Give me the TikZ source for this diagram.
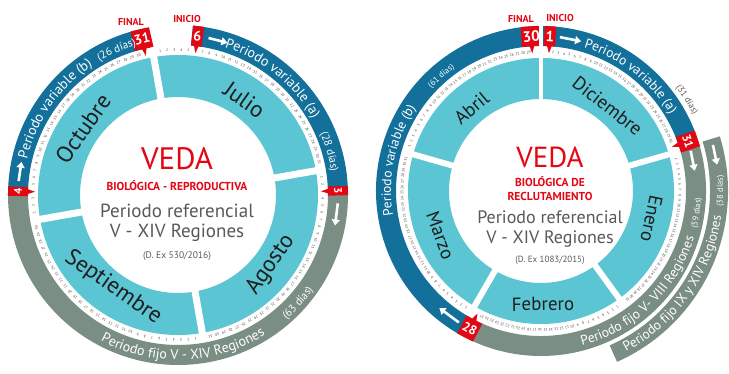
\documentclass[tikz,border=0pt]{standalone}
\usepackage{fontspec}
\setmainfont{PT Sans}
\usetikzlibrary{decorations.text,arrows.meta}

\definecolor{vedablue}{HTML}{12709B}
\definecolor{vedagray}{HTML}{7B8E83}
\definecolor{vedacyan}{HTML}{5BC5D3}
\definecolor{vedared}{HTML}{E30613}
\definecolor{refgray}{HTML}{58595B}
\definecolor{monthink}{HTML}{1E1E1E}

\newcommand\bandfont{\fontsize{14}{14}\selectfont\color{white}}
\newcommand\bandsmall{\fontsize{11}{11}\selectfont\color{white}}
\newcommand\bandfontR{\fontsize{13.5}{13.5}\selectfont\color{white}}
\newcommand\bandsmallR{\fontsize{8.5}{8.5}\selectfont\color{white}}
\newcommand\outsmall{\fontsize{9}{9}\selectfont\color{refgray}}

% ring sector: colour, from, to, inner, outer
\newcommand\arcband[5]{\fill[#1] (#2:#5) arc[start angle=#2, end angle=#3, radius=#5]
  -- (#3:#4) arc[start angle=#3, end angle=#2, radius=#4] -- cycle;}

% day numbers: from, to, days, radius, prefix, skip, skip
\newcommand\daynums[7]{%
  \foreach \d in {1,...,#3}{%
    \pgfmathsetmacro\dang{#1-(\d-0.5)*((#1)-(#2))/#3}%
    \ifnum\d=#6\else\ifnum\d=#7\else
      \node[daynum, rotate=\dang-90] (#5\d) at (\dang:#4) {\d};
    \fi\fi}}

% red day flag: options, angle, mid radius, band width, label
\newcommand\daymark[5][]{%
  \begin{scope}[rotate=#2-90]
    \fill[vedared] (-2.6,#3-#4/2+1) -- (2.6,#3-#4/2+1) -- (0,#3-#4/2-7) -- cycle;
    \node[markbox, minimum height=#4, transform shape, #1] at (0,#3) {#5};
  \end{scope}}

\begin{document}
\begin{tikzpicture}[x=1pt, y=1pt,
    daynum/.style={inner sep=0pt, font=\fontsize{3.7}{3.7}\selectfont, text=black!75},
    monthL/.style={inner sep=0pt, text=monthink, font=\fontsize{23}{23}\selectfont},
    monthR/.style={inner sep=0pt, text=monthink, font=\fontsize{19}{19}\selectfont},
    markbox/.style={fill=vedared, text=white, inner xsep=1.5pt, inner ysep=0pt,
      font=\bfseries\fontsize{14}{14}\selectfont},
    flag/.style={inner sep=0pt, text=vedared, font=\bfseries\fontsize{10}{10}\selectfont},
    gapline/.style={white, line width=7pt},
    wharrow/.style={white, line width=2.6pt, -{Triangle[length=6pt,width=8pt]}},
    veda/.style={inner sep=0pt, text=vedared, font=\fontsize{31}{31}\selectfont},
    kind/.style={inner sep=0pt, text=vedared, font=\bfseries\fontsize{11.5}{11.5}\selectfont},
    ref/.style={inner sep=0pt, text=refgray, font=\fontsize{19}{19}\selectfont},
    decree/.style={inner sep=0pt, text=refgray, font=\fontsize{9.5}{9.5}\selectfont}
]
\clip (0,0) rectangle (729,373);
\fill[white] (0,0) rectangle (729,373);

% ---------- Left wheel: reproductiva ----------
\begin{scope}[shift={(178,178)}]
  % months
  \fill[vedacyan, even odd rule] (0,0) circle[radius=140] (0,0) circle[radius=98];
  \foreach \g in {100,10,-80,-170}
    \draw[gapline] (\g:94) -- (\g:143);

  % periods
  \arcband{vedablue}{85}{1.5}{150}{170}
  \arcband{vedagray}{1.5}{-181.3}{150}{170}
  \arcband{vedablue}{178.7}{100.7}{150}{170}

  % days
  \daynums{98.5}{11.5}{31}{145}{jul}{6}{0}
  \daynums{8.5}{-78.5}{31}{145}{ago}{3}{0}
  \daynums{-81.5}{-168.5}{30}{145}{sep}{0}{0}
  \daynums{188.5}{101.5}{31}{145}{oct}{4}{31}

  % flags
  \daymark[name=mkOct31]{103}{160}{20}{31}
  \daymark[name=mkJul6]{83}{160}{20}{6}
  \daymark[name=mkAgo3, font=\bfseries\fontsize{11}{11}\selectfont]{1.5}{160}{20}{3}
  \daymark[name=mkOct4, font=\bfseries\fontsize{11}{11}\selectfont]{178.7}{160}{20}{4}

  \draw[wharrow] (79:160) -- (72:160);
  \draw[wharrow] (-3:160) -- (-11:160);
  \draw[wharrow] (175:160) -- (168:160);

  \node[monthL, rotate=-35] (julio) at (55:116) {Julio};
  \node[monthL, rotate=55] (agosto) at (-37:116) {Agosto};
  \node[monthL, rotate=-35] (septiembre) at (-125:113) {Septiembre};
  \node[monthL, rotate=55] (octubre) at (145:116) {Octubre};

  % band texts
  \path[decorate, decoration={text along path, text align=center,
    text={|\bandfont|Periodo variable (a)}}] (84:155) arc[start angle=84, end angle=18, radius=155];
  \path[decorate, decoration={text along path, text align=center,
    text={|\bandsmall|(28 días)}}] (30:155) arc[start angle=30, end angle=2, radius=155];
  \path[decorate, decoration={text along path, text align=center,
    text={|\bandfont|Periodo variable (b)}}] (180:155) arc[start angle=180, end angle=110, radius=155];
  \path[decorate, decoration={text along path, text align=center,
    text={|\bandsmall|(26 días)}}] (124:155) arc[start angle=124, end angle=102, radius=155];
  \path[decorate, decoration={text along path, text align=center,
    text={|\bandfont|Periodo fijo V - XIV Regiones}}] (-130:165) arc[start angle=-130, end angle=-46, radius=165];
  \path[decorate, decoration={text along path, text align=center,
    text={|\bandsmall|(63 días)}}] (-54:165) arc[start angle=-54, end angle=-30, radius=165];
\end{scope}

\node[flag] (finalL) at (131,351) {FINAL};
\node[flag] (inicioL) at (187,354) {INICIO};

\node[veda] (vedaL) at (177,214) {VEDA};
\node[kind] (bioL) at (177,187) {BIOLÓGICA - REPRODUCTIVA};
\node[ref] (refL) at (177,162) {Periodo referencial};
\node[ref] (regL) at (177,140) {V - XIV Regiones};
\node[decree] (decL) at (177,117) {(D. Ex 530/2016)};

% ---------- Right wheel: reclutamiento ----------
\begin{scope}[shift={(541,182)}]
  \fill[vedacyan, even odd rule] (0,0) circle[radius=133] (0,0) circle[radius=92];
  \foreach \g in {16,-54,-120,164}
    \draw[gapline, line width=6pt] (\g:88) -- (\g:136);

  \arcband{vedablue}{89.3}{18.6}{145}{165}
  \arcband{vedagray}{18.6}{-117.4}{145}{165}
  \arcband{vedablue}{-117.4}{-269.3}{145}{165}
  \arcband{vedagray}{17}{-66}{169}{187}

  \daynums{88.5}{17.5}{31}{139}{dic}{1}{31}
  \daynums{14.5}{-52.5}{31}{139}{ene}{0}{0}
  \daynums{-55.5}{-118.5}{28}{139}{feb}{28}{0}
  \daynums{-121.5}{-194.5}{31}{139}{mar}{0}{0}
  \daynums{162.5}{91.5}{30}{139}{abr}{30}{0}

  \daymark[name=mkAbr30, font=\bfseries\fontsize{15}{15}\selectfont]{93.6}{155}{20}{30}
  \daymark[name=mkDic1, font=\bfseries\fontsize{15}{15}\selectfont]{86.7}{155}{20}{1}
  \daymark[name=mkDic31, font=\bfseries\fontsize{12}{12}\selectfont]{18.6}{155}{20}{31}
  \daymark[name=mkFeb28, rotate=180, font=\bfseries\fontsize{13}{13}\selectfont]{-117.4}{155}{20}{28}
  \draw[gapline, line width=4pt] (90:88) -- (90:168);

  \draw[wharrow] (83:155) -- (75:155);
  \draw[wharrow] (15:155) -- (7.5:155);
  \draw[wharrow] (15:178) -- (8.5:178);
  \draw[wharrow] (-122:155) -- (-131:155);

  \node[monthR, rotate=-38] (diciembre) at (52:108) {Diciembre};
  \node[monthR, rotate=-102] (enero) at (-14:114) {Enero};
  \node[monthR, rotate=1] (febrero) at (-89:113) {Febrero};
  \node[monthR, rotate=-70] (marzo) at (-156:110) {Marzo};
  \node[monthR, rotate=40] (abril) at (130:108) {Abril};

  \path[decorate, decoration={text along path, text align=center,
    text={|\bandfontR|Periodo variable (a)}}] (86:150) arc[start angle=86, end angle=18, radius=150];
  \path[decorate, decoration={text along path, text align=center,
    text={|\outsmall|(31 días)}}] (44:170) arc[start angle=44, end angle=20, radius=170];
  \path[decorate, decoration={text along path, text align=center,
    text={|\bandfontR|Periodo variable (b)}}] (200:150) arc[start angle=200, end angle=136, radius=150];
  \path[decorate, decoration={text along path, text align=center,
    text={|\bandsmallR|(61 días)}}] (143:150) arc[start angle=143, end angle=119, radius=150];
  \path[decorate, decoration={text along path, text align=center,
    text={|\bandfontR|Periodo fijo V- VIII Regiones}}] (-88:160) arc[start angle=-88, end angle=-4, radius=160];
  \path[decorate, decoration={text along path, text align=center,
    text={|\bandsmallR|(59 días)}}] (-20:160) arc[start angle=-20, end angle=4, radius=160];
  \path[decorate, decoration={text along path, text align=center,
    text={|\bandfontR|Periodo fijo IX y XIV Regiones}}] (-72:182) arc[start angle=-72, end angle=2, radius=182];
  \path[decorate, decoration={text along path, text align=center,
    text={|\bandsmallR|(38 días)}}] (-12:182) arc[start angle=-12, end angle=12, radius=182];
\end{scope}

\node[flag] (finalR) at (521,354) {FINAL};
\node[flag] (inicioR) at (560,355) {INICIO};

\node[veda, font=\fontsize{29}{29}\selectfont] (vedaR) at (550,216) {VEDA};
\node[kind] (bioR) at (550,191) {BIOLÓGICA DE};
\node[kind] (reclR) at (550,177) {RECLUTAMIENTO};
\node[ref, font=\fontsize{18}{18}\selectfont] (refR) at (550,156) {Periodo referencial};
\node[ref, font=\fontsize{18}{18}\selectfont] (regR) at (550,134) {V - XIV Regiones};
\node[decree, font=\fontsize{9}{9}\selectfont] (decR) at (550,113) {(D. Ex 1083/2015)};
\end{tikzpicture}
\end{document}
